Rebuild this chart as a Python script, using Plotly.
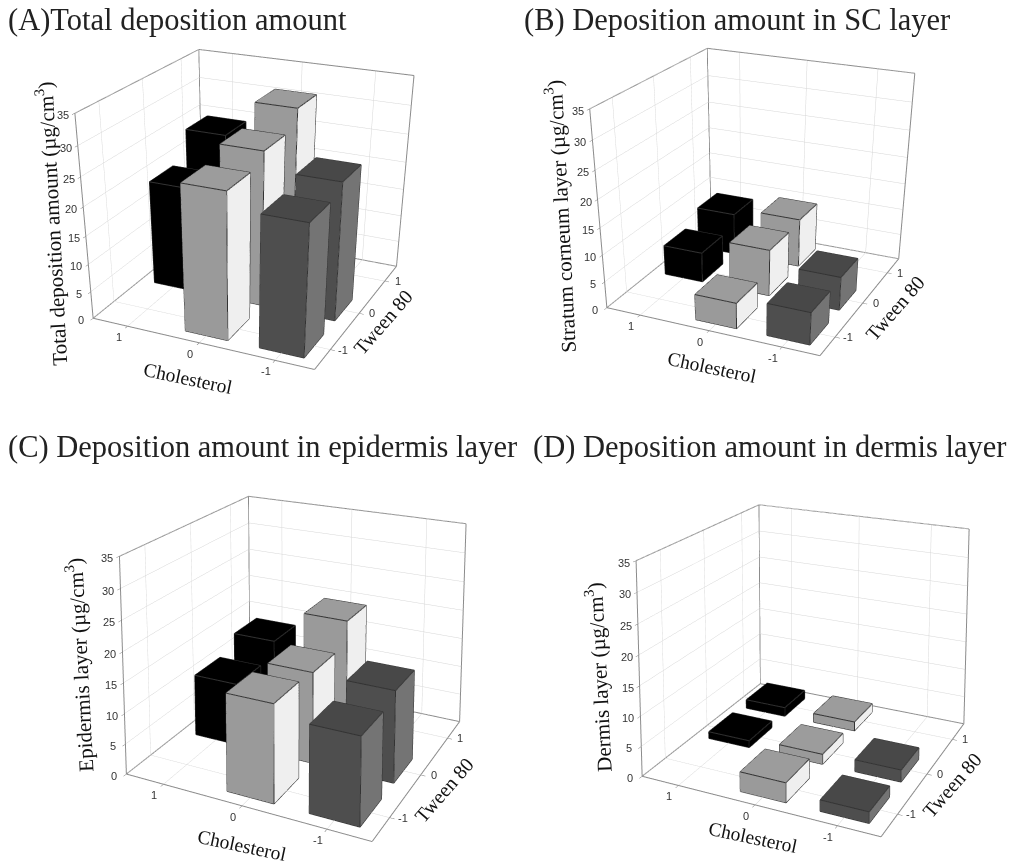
import plotly.graph_objects as go

CHOL = [1, 1, 0, 0, 0, -1, -1]
TWEEN = [0, 1, -1, 0, 1, -1, 0]
TOTAL = [19, 24, 25.7, 27.5, 30.5, 23, 24.5]
SC = [5.7, 8, 4.8, 8.8, 9.3, 6, 6.3]
EPID = [10.5, 13, 15.7, 15.2, 19, 13.8, 15]
DERMIS = [1.2, 1.6, 3.2, 1.7, 1.6, 1.8, 2]
TICKS_XY = [-1, 0, 1]
TICK_TEXT_X = ["1", "0", "-1"]
TICK_TEXT_Y = ["-1", "0", "1"]
TICKS_Z = [0, 5, 10, 15, 20, 25, 30, 35]
FRONT = {1: "#000000", 0: "#9a9a9a", -1: "#4e4e4e"}
TOP = {1: "#000000", 0: "#9c9c9c", -1: "#484848"}
SIDE = {1: "#000000", 0: "#efefef", -1: "#747474"}
HWX = 0.29
HWY = 0.31

PANELS = [
    dict(v=TOTAL, dom=(0, 480), eye=(1.702, -3.782, 1.628), cen=(0.126, -0.394, -0.899), asp=(1, 1.027, 0.863)),
    dict(v=SC, dom=(488, 1012), eye=(1.774, -3.939, 1.667), cen=(0.177, -0.483, -0.908), asp=(1, 1.018, 0.867)),
    dict(v=EPID, dom=(0, 580), eye=(1.667, -3.461, 1.583), cen=(0.007, -0.117, 0.872), asp=(1, 0.977, 0.859)),
    dict(v=DERMIS, dom=(598, 1012), eye=(1.701, -3.640, 1.571), cen=(0.041, -0.149, 0.919), asp=(1, 0.988, 0.873)),
]
TITLES = [("(A)Total deposition amount", 6, 20), ("(B) Deposition amount in SC layer", 522, 20),
          ("(C) Deposition amount in epidermis layer", 6, 447), ("(D) Deposition amount in dermis layer", 531, 447)]
UNIT = " (µg/cm<sup>3</sup>)"
ZTITLES = [("Total deposition amount" + UNIT, 51, 224), ("Stratum corneum layer" + UNIT, 560, 217),
           ("Epidermis layer" + UNIT, 79, 665), ("Dermis layer" + UNIT, 598, 677)]
XTITLES = [(188, 378), (712, 367), (242, 845), (753, 837)]
YTITLES = [(383, 322), (895, 308), (444, 790), (952, 785)]

fig = go.Figure()
R = 1.5
ZM = 35
for i, p in enumerate(PANELS):
    sc = "scene" if i == 0 else f"scene{i+1}"
    for c, t, h in zip(CHOL, TWEEN, p["v"]):
        x0, x1 = -c - HWX, -c + HWX
        y0, y1 = t - HWY, t + HWY
        xs = [x0, x1, x1, x0, x0, x1, x1, x0]
        ys = [y0, y0, y1, y1, y0, y0, y1, y1]
        zs = [0, 0, 0, 0, h, h, h, h]
        I = [0, 0, 4, 4, 1, 1, 0, 0, 3, 3, 0, 0]
        J = [1, 2, 5, 6, 2, 6, 1, 5, 2, 6, 3, 7]
        K = [2, 3, 6, 7, 6, 5, 5, 4, 6, 7, 7, 4]
        cols = [FRONT[c]] * 2 + [TOP[c]] * 2 + [SIDE[c]] * 2 + [FRONT[c]] * 2 + [SIDE[c]] * 2 + [SIDE[c]] * 2
        fig.add_trace(go.Mesh3d(x=xs, y=ys, z=zs, i=I, j=J, k=K, facecolor=cols, flatshading=True,
                                lighting=dict(ambient=1, diffuse=0, specular=0, fresnel=0, roughness=1),
                                hoverinfo="skip", showscale=False, scene=sc))
        ex, ey, ez = [], [], []
        for a, b in [(0, 1), (1, 2), (4, 5), (5, 6), (6, 7), (7, 4), (0, 4), (1, 5), (2, 6)]:
            ex += [xs[a], xs[b], None]
            ey += [ys[a], ys[b], None]
            ez += [zs[a], zs[b], None]
        fig.add_trace(go.Scatter3d(x=ex, y=ey, z=ez, mode="lines", line=dict(color="#333333", width=2),
                                   hoverinfo="skip", showlegend=False, scene=sc))
    fx, fy, fz = [], [], []
    for a, b in [((-R, -R, 0), (R, -R, 0)), ((R, -R, 0), (R, R, 0)), ((R, R, 0), (-R, R, 0)), ((-R, R, 0), (-R, -R, 0)),
                 ((-R, -R, 0), (-R, -R, ZM)), ((-R, R, 0), (-R, R, ZM)), ((R, R, 0), (R, R, ZM)),
                 ((-R, -R, ZM), (-R, R, ZM)), ((-R, R, ZM), (R, R, ZM))]:
        fx += [a[0], b[0], None]
        fy += [a[1], b[1], None]
        fz += [a[2], b[2], None]
    fig.add_trace(go.Scatter3d(x=fx, y=fy, z=fz, mode="lines", line=dict(color="#8c8c8c", width=2),
                               hoverinfo="skip", showlegend=False, scene=sc))
    common = dict(showbackground=True, backgroundcolor="white", gridcolor="#d6d6d6", gridwidth=1,
                  showspikes=False, zeroline=False, showline=False, title=dict(text=""), showticklabels=False,
                  ticks="outside", ticklen=4, tickcolor="#777777")
    tf = dict(family="Liberation Sans", size=11, color="#333333")
    sa = []
    for v, s in zip(TICKS_XY, TICK_TEXT_X):
        sa.append(dict(x=v, y=-R, z=0, text=s, showarrow=False, xshift=-9, yshift=-11, font=tf))
    for v, s in zip(TICKS_XY, TICK_TEXT_Y):
        sa.append(dict(x=R, y=v, z=0, text=s, showarrow=False, xshift=13, yshift=0, font=tf))
    for v in TICKS_Z:
        sa.append(dict(x=-R, y=-R, z=v, text=str(v), showarrow=False, xshift=-12, yshift=-2, font=tf))
    fig.update_layout({sc: dict(
        domain=dict(x=[p["dom"][0] / 1012, p["dom"][1] / 1012], y=[0, 1]),
        xaxis=dict(range=[-R, R], tickvals=TICKS_XY, **common),
        yaxis=dict(range=[-R, R], tickvals=TICKS_XY, **common),
        zaxis=dict(range=[0, ZM], tickvals=TICKS_Z, **common),
        aspectmode="manual", aspectratio=dict(x=p["asp"][0], y=p["asp"][1], z=p["asp"][2]),
        camera=dict(eye=dict(x=p["eye"][0], y=p["eye"][1], z=p["eye"][2]),
                    center=dict(x=p["cen"][0], y=p["cen"][1], z=p["cen"][2]), up=dict(x=0, y=0, z=1)),
        bgcolor="rgba(0,0,0,0)", annotations=sa,
    )})

ann = []
serif = "Liberation Serif"
for t, x, y in TITLES:
    ann.append(dict(text=t, x=x, y=y, xref="paper", yref="paper", xanchor="left", yanchor="middle", showarrow=False,
                    font=dict(family=serif, size=30.5, color="#222222")))
for t, x, y in ZTITLES:
    ann.append(dict(text=t, x=x, y=y, xref="paper", yref="paper", xanchor="center", yanchor="middle", textangle=-93,
                    showarrow=False, font=dict(family=serif, size=21, color="#111111")))
for x, y in XTITLES:
    ann.append(dict(text="Cholesterol", x=x, y=y, xref="paper", yref="paper", xanchor="center", yanchor="middle",
                    textangle=12, showarrow=False, font=dict(family=serif, size=19.5, color="#111111")))
for x, y in YTITLES:
    ann.append(dict(text="Tween 80", x=x, y=y, xref="paper", yref="paper", xanchor="center", yanchor="middle",
                    textangle=-49, showarrow=False, font=dict(family=serif, size=20, color="#111111")))
for a in ann:
    a["x"] = a["x"] / 1012
    a["y"] = 1 - a["y"] / 862
fig.update_layout(width=1012, height=862, margin=dict(l=0, r=0, t=0, b=0), paper_bgcolor="white",
                  showlegend=False, annotations=ann)
fig.write_html("out.html", config=dict(displayModeBar=False),
               post_script="document.body.style.margin='0';")
